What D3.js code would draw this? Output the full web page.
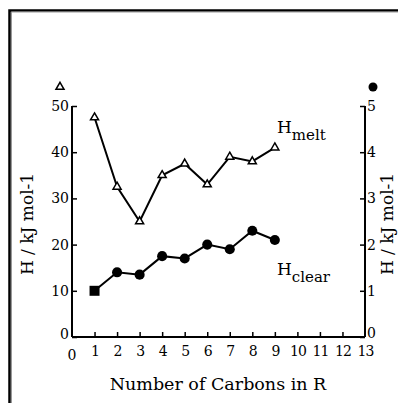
<!DOCTYPE html>
<html><head><meta charset="utf-8">
<script src="https://cdn.jsdelivr.net/npm/d3@7"></script>
<style>body{margin:0;background:#fff}svg{display:block}svg text{font-family:"DejaVu Serif",serif !important}</style>
</head><body>
<script>
const carbons = [1,2,3,4,5,6,7,8,9];
const hMelt = [47.5,32.5,25,35,37.5,33,39,38,41];
const hClear = [10,14,13.5,17.5,17,20,19,23,21];
const xTicks = d3.range(0,14);
const yTicksLeft = [0,10,20,30,40,50];
const yTicksRight = [0,1,2,3,4,5];

const W=398,H=403;
const svg=d3.select("body").append("svg").attr("width",W).attr("height",H);

// frame
svg.append("path").attr("d",`M9.5,${H+5} V10.5 H${W+5}`).attr("fill","none").attr("stroke","#000").attr("stroke-width",2.5);
svg.append("path").attr("d",`M11.5,${H+5} V12 H${W+5}`).attr("fill","none").attr("stroke","#999").attr("stroke-width",1);

const x=d3.scaleLinear().domain([0,13]).range([72,365]);
const y=d3.scaleLinear().domain([0,50]).range([337,106]);
const yR=d3.scaleLinear().domain([0,5]).range([337,106]);

const g=svg.append("g");

// axes
const ax=g.append("g").attr("transform","translate(0,337)")
  .call(d3.axisBottom(x).tickValues(xTicks).tickSize(-5).tickPadding(9).tickFormat(d=>d===0?"":d));
const ayl=g.append("g").attr("transform","translate(72,0)")
  .call(d3.axisLeft(y).tickValues(yTicksLeft).tickSize(-5).tickPadding(3).tickFormat(d=>d===0?"":d));
const ayr=g.append("g").attr("transform","translate(365,0)")
  .call(d3.axisRight(yR).tickValues(yTicksRight).tickSize(-5).tickPadding(2).tickFormat(d=>d===0?"":d));
[ax,ayl,ayr].forEach(a=>{
  a.selectAll(".domain").attr("stroke","#000").attr("stroke-width",2);
  a.selectAll(".tick line").attr("stroke","#000").attr("stroke-width",1.5);
  a.selectAll("text").attr("font-size",14).attr("fill","#000");
});
ax.selectAll("text").attr("letter-spacing",-1);
ax.selectAll(".domain").attr("d","M72,0H365");
ayl.selectAll(".domain").attr("d","M0,337V106");
ayr.selectAll(".domain").attr("d","M0,337V106");
ax.selectAll(".tick").filter(d=>d===0||d===13).select("line").remove();
// zero labels
g.append("text").attr("x",72).attr("y",360).attr("text-anchor","middle").attr("font-size",14).text("0");
g.append("text").attr("x",69).attr("y",339).attr("text-anchor","end").attr("font-size",14).text("0");
g.append("text").attr("x",367).attr("y",338).attr("text-anchor","start").attr("font-size",14).text("0");

// axis titles
g.append("text").attr("transform","translate(33,224) rotate(-90)").attr("text-anchor","middle").attr("font-size",17).text("H / kJ mol-1");
g.append("text").attr("transform","translate(393,224) rotate(-90)").attr("text-anchor","middle").attr("font-size",17).text("H / kJ mol-1");
g.append("text").attr("x",218).attr("y",390).attr("text-anchor","middle").attr("font-size",17.5).text("Number of Carbons in R");

// marker legends above axes
const tri=d3.symbol().type(d3.symbolTriangle).size(28);
svg.append("path").attr("d",tri()).attr("transform","translate(60,87)").attr("fill","#fff").attr("stroke","#000").attr("stroke-width",1.5);
svg.append("circle").attr("cx",373).attr("cy",87).attr("r",4.5).attr("fill","#000");

// lines
const line=d3.line().x((d,i)=>x(carbons[i])).y(d=>y(d));
g.append("path").datum(hMelt).attr("d",line).attr("fill","none").attr("stroke","#000").attr("stroke-width",2);
g.append("path").datum(hClear).attr("d",line).attr("fill","none").attr("stroke","#000").attr("stroke-width",2);

// markers
g.selectAll(".tri").data(hMelt).join("path").attr("d",tri)
  .attr("transform",(d,i)=>`translate(${x(carbons[i])},${y(d)})`)
  .attr("fill","#fff").attr("stroke","#000").attr("stroke-width",1.5);
g.selectAll(".clr").data(hClear).join("path")
  .attr("d",(d,i)=>d3.symbol().type(i===0?d3.symbolSquare:d3.symbolCircle).size(i===0?100:80)())
  .attr("transform",(d,i)=>`translate(${x(carbons[i])},${y(d)})`)
  .attr("fill","#000");

// series labels
const lm=g.append("text").attr("x",277).attr("y",133).attr("font-size",17);
lm.append("tspan").text("H");
lm.append("tspan").attr("dy",7).attr("font-size",15).text("melt");
const lc=g.append("text").attr("x",277).attr("y",275).attr("font-size",17);
lc.append("tspan").text("H");
lc.append("tspan").attr("dy",7).attr("font-size",15).text("clear");
</script>
</body></html>
